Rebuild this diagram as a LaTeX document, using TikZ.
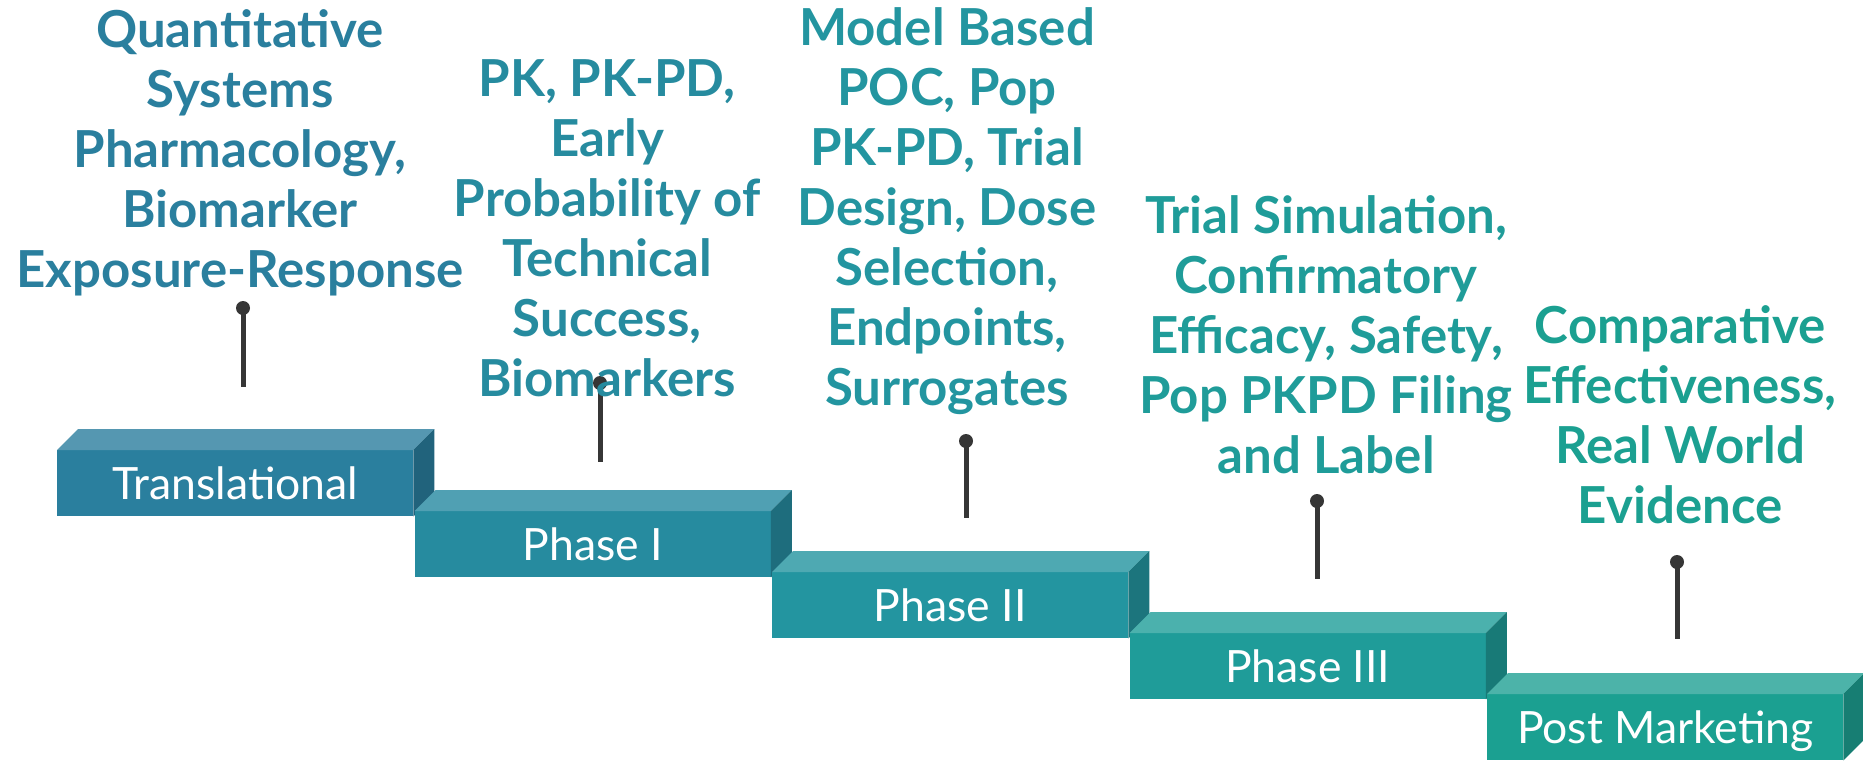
\documentclass[tikz,border=0pt]{standalone}
\usepackage{fontspec}
\setmainfont{Lato}

% stage colours: front face, top face, side face
\definecolor{frontA}{HTML}{2A7F9E}\definecolor{topA}{HTML}{5597B1}\definecolor{sideA}{HTML}{21637C}
\definecolor{frontB}{HTML}{268B9F}\definecolor{topB}{HTML}{50A0B3}\definecolor{sideB}{HTML}{1E6D7D}
\definecolor{frontC}{HTML}{2395A0}\definecolor{topC}{HTML}{4EA9B2}\definecolor{sideC}{HTML}{1C757D}
\definecolor{frontD}{HTML}{1F9C99}\definecolor{topD}{HTML}{4BB1AD}\definecolor{sideD}{HTML}{187A77}
\definecolor{frontE}{HTML}{1BA091}\definecolor{topE}{HTML}{4CB3A9}\definecolor{sideE}{HTML}{177E73}
\definecolor{pinc}{HTML}{363636}

\tikzset{
  stage/.style={anchor=north west, minimum width=356pt, minimum height=66pt,
    inner sep=0pt, text=white, text height=32pt, text depth=0pt,
    font=\fontsize{44.5}{50}\selectfont},
  note/.style={anchor=base, inner sep=0pt, font=\bfseries\fontsize{51}{60}\selectfont},
  pinhead/.style={circle, fill=pinc, minimum size=14pt, inner sep=0pt},
  pinline/.style={draw=pinc, line width=5pt},
}

% top and side faces of a stage block
\newcommand\stagefaces[3]{%
  \fill[#2] (#1.north west) -- ++(21,-21) -- ([xshift=21pt,yshift=21pt]#1.north east) -- (#1.north east) -- cycle;
  \fill[#3] (#1.north east) -- ++(21,-21) -- ([xshift=21pt,yshift=21pt]#1.south east) -- (#1.south east) -- cycle;
}

\begin{document}
\begin{tikzpicture}[x=1pt,y=-1pt]
\useasboundingbox (0,0) rectangle (1863,761);

% staircase of stages
\node[stage, fill=frontA] (s0) at (57,450) {Translational};
\stagefaces{s0}{topA}{sideA}
\node[stage, fill=frontB] (s1) at (414.5,511) {Phase I};
\stagefaces{s1}{topB}{sideB}
\node[stage, fill=frontC] (s2) at (772,572) {Phase II};
\stagefaces{s2}{topC}{sideC}
\node[stage, fill=frontD] (s3) at (1129.5,633) {Phase III};
\stagefaces{s3}{topD}{sideD}
\node[stage, fill=frontE] (s4) at (1487,694) {Post Marketing};
\stagefaces{s4}{topE}{sideE}

% pins
\node[pinhead] (p0) at (243,308) {};
\coordinate (q0) at (243,387);
\draw[pinline] (p0.center) -- (q0);
\node[pinhead] (p1) at (600,383) {};
\coordinate (q1) at (600,462);
\draw[pinline] (p1.center) -- (q1);
\node[pinhead] (p2) at (966,441) {};
\coordinate (q2) at (966,518);
\draw[pinline] (p2.center) -- (q2);
\node[pinhead] (p3) at (1317,501) {};
\coordinate (q3) at (1317,579);
\draw[pinline] (p3.center) -- (q3);
\node[pinhead] (p4) at (1677,562) {};
\coordinate (q4) at (1677,639);
\draw[pinline] (p4.center) -- (q4);

% descriptions
\node[note, text=frontA] (l0) at (240,47) {\begin{tabular}[t]{@{}c@{}}Quantitative\\Systems\\Pharmacology,\\Biomarker\\Exposure-Response\end{tabular}};
\node[note, text=frontB] (l1) at (607,96) {\begin{tabular}[t]{@{}c@{}}PK, PK-PD,\\Early\\Probability of\\Technical\\Success,\\Biomarkers\end{tabular}};
\node[note, text=frontC] (l2) at (947,45) {\begin{tabular}[t]{@{}c@{}}Model Based\\POC, Pop\\PK-PD, Trial\\Design, Dose\\Selection,\\Endpoints,\\Surrogates\end{tabular}};
\node[note, text=frontD] (l3) at (1326,233) {\begin{tabular}[t]{@{}c@{}}Trial Simulation,\\Confirmatory\\Efficacy, Safety,\\Pop PKPD Filing\\and Label\end{tabular}};
\node[note, text=frontE] (l4) at (1680,343) {\begin{tabular}[t]{@{}c@{}}Comparative\\Effectiveness,\\Real World\\Evidence\end{tabular}};
\end{tikzpicture}
\end{document}
